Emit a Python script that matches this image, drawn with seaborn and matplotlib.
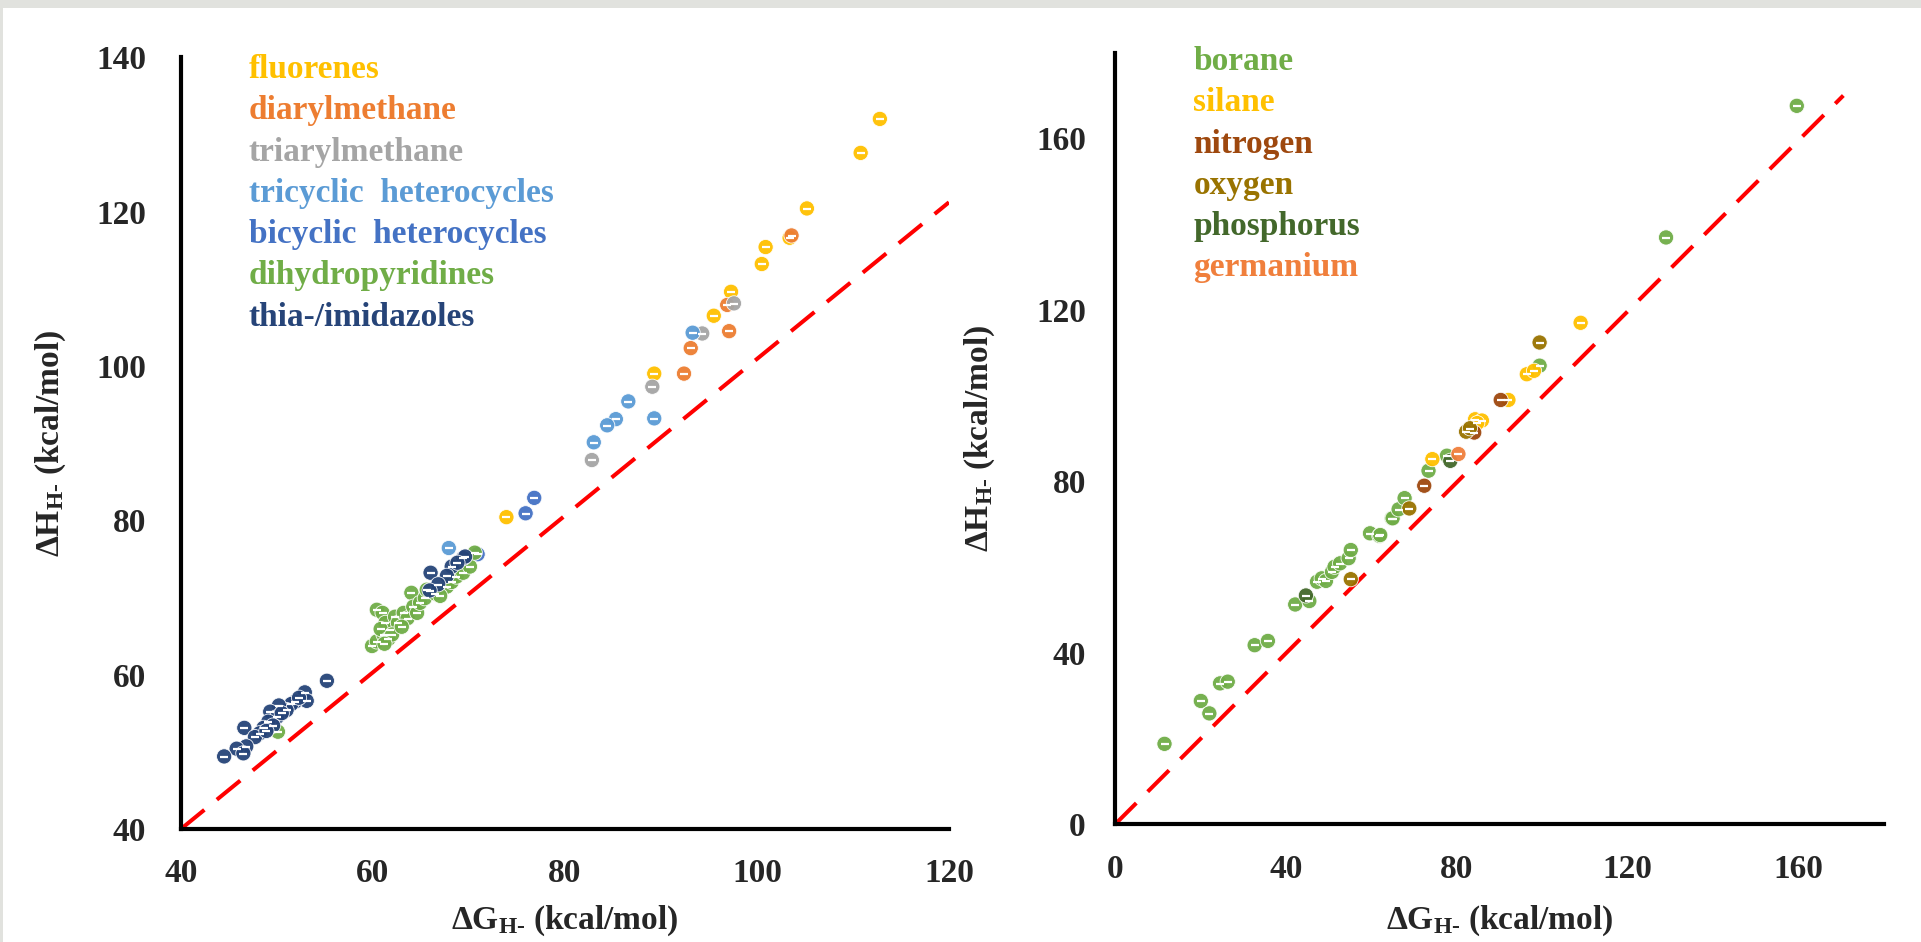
import matplotlib
matplotlib.use("Agg")
import matplotlib.pyplot as plt
import numpy as np
import pandas as pd
import seaborn as sns
from matplotlib.patches import Rectangle

# ---- left panel: organic hydride donors (dG, dH in kcal/mol)
FLUORENES_G = [112.8, 110.8, 105.2, 103.4, 100.9, 100.5, 97.3, 95.5, 89.3, 73.9]
FLUORENES_H = [132.0, 127.6, 120.4, 116.6, 115.4, 113.2, 109.6, 106.5, 99.0, 80.4]
DIARYL_G = [103.6, 96.9, 97.1, 93.1, 92.4]
DIARYL_H = [116.9, 107.9, 104.5, 102.3, 99.0]
TRIARYL_G = [97.6, 94.3, 89.1, 82.8]
TRIARYL_H = [108.1, 104.2, 97.3, 87.8]
TRICYCLIC_G = [93.3, 86.6, 85.3, 84.4, 83.0, 89.3, 67.9]
TRICYCLIC_H = [104.3, 95.4, 93.1, 92.3, 90.1, 93.2, 76.4]
BICYCLIC_G = [76.8, 75.9, 70.9]
BICYCLIC_H = [82.9, 80.9, 75.6]
DHP_G = [60.4, 61.0, 59.9, 60.4, 61.1, 61.3, 61.8, 62.3, 62.6, 63.2, 63.6, 64.0,
         64.2, 64.6, 64.9, 65.4, 65.6, 67.7, 68.2, 68.7, 69.4, 70.1, 70.6, 60.8,
         61.6, 62.0, 63.0, 61.2, 50.1, 66.5, 67.0]
DHP_H = [68.4, 68.0, 63.7, 64.3, 65.2, 66.7, 65.8, 67.5, 66.7, 68.0, 67.3, 70.6,
         68.8, 68.0, 69.3, 69.9, 71.0, 71.4, 72.0, 72.7, 73.2, 74.0, 75.8, 65.9,
         64.6, 65.2, 66.2, 64.0, 52.6, 70.5, 70.2]
THIA_G = [69.4, 68.2, 67.7, 66.0, 66.8, 65.9, 69.6, 68.8, 55.2, 52.9, 53.1, 51.9,
          51.5, 51.0, 50.2, 49.3, 50.0, 49.1, 48.6, 46.6, 48.2, 47.7, 46.8, 45.8,
          46.5, 44.5, 49.6, 48.9, 50.5, 52.3]
THIA_H = [75.1, 74.0, 72.8, 73.2, 71.7, 70.9, 75.3, 74.5, 59.2, 57.7, 56.6, 56.5,
          56.2, 55.4, 56.0, 55.2, 54.5, 53.9, 53.1, 53.1, 52.4, 51.9, 50.7, 50.4,
          49.8, 49.4, 53.4, 52.7, 55.0, 57.0]

LEFT_GROUPS = ["fluorenes", "diarylmethane", "triarylmethane", "tricyclic  heterocycles",
               "bicyclic  heterocycles", "dihydropyridines", "thia-/imidazoles"]
LEFT_COLORS = ["#FFC000", "#ED7D31", "#A5A5A5", "#5B9BD5", "#4472C4", "#70AD47", "#264478"]

# ---- right panel: main-group hydrides
BORANE_G = [11.6, 20.1, 22.1, 24.6, 26.4, 32.7, 35.8, 42.2, 45.5, 47.3, 48.4, 49.4,
            50.8, 51.4, 52.7, 54.7, 55.2, 59.7, 61.9, 62.1, 64.8, 65.0, 66.4, 67.8,
            73.4, 77.7, 99.4, 129.0, 159.6]
BORANE_H = [18.8, 28.8, 25.9, 32.9, 33.3, 41.8, 42.8, 51.3, 52.1, 56.6, 57.4, 56.8,
            58.9, 60.1, 60.9, 62.1, 64.0, 67.9, 67.3, 67.5, 71.4, 71.4, 73.5, 76.1,
            82.5, 86.0, 107.0, 136.9, 167.6]
SILANE_G = [74.3, 84.3, 85.9, 84.8, 92.1, 96.4, 98.1, 109.0]
SILANE_H = [85.2, 94.5, 94.2, 93.6, 99.0, 105.0, 105.8, 117.0]
NITROGEN_G = [72.4, 84.1, 90.3]
NITROGEN_H = [79.0, 91.4, 99.0]
OXYGEN_G = [55.2, 68.9, 82.2, 83.1, 99.4]
OXYGEN_H = [57.2, 73.7, 91.6, 92.4, 112.4]
PHOSPHORUS_G = [44.7, 78.5]
PHOSPHORUS_H = [53.4, 84.8]
GERMANIUM_G = [80.4]
GERMANIUM_H = [86.4]

RIGHT_GROUPS = ["borane", "silane", "nitrogen", "oxygen", "phosphorus", "germanium"]
RIGHT_COLORS = ["#70AD47", "#FFC000", "#9E480E", "#997300", "#43682B", "#F07F3C"]

# y = x guide lines (end points as drawn)
DIAG_LEFT_X = [40, 120]
DIAG_LEFT_Y = [40, 121.2]
DIAG_RIGHT_X = [0, 170.5]
DIAG_RIGHT_Y = [0, 170.0]


def build_df(groups, xs, ys):
    rows = []
    for name, gx, gy in zip(groups, xs, ys):
        for a, b in zip(gx, gy):
            rows.append((name, a, b))
    return pd.DataFrame(rows, columns=["group", "dG", "dH"])


sns.set_style("white")
plt.rcParams["font.family"] = ["Liberation Serif", "DejaVu Serif"]
plt.rcParams["font.weight"] = "bold"
plt.rcParams["mathtext.fontset"] = "custom"
plt.rcParams["mathtext.rm"] = "Liberation Serif:bold"
plt.rcParams["mathtext.it"] = "Liberation Serif:bold"
plt.rcParams["mathtext.bf"] = "Liberation Serif:bold"

FS = 24

fig = plt.figure(figsize=(19.21, 9.42), dpi=100)
fig.patch.set_facecolor("white")
# thin grey frame strips of the screenshot
fig.patches.append(Rectangle((0, 1 - 8 / 942), 1, 8 / 942, transform=fig.transFigure,
                             facecolor="#e1e2de", edgecolor="none", zorder=0))
fig.patches.append(Rectangle((0, 0), 3 / 1921, 1, transform=fig.transFigure,
                             facecolor="#e1e2de", edgecolor="none", zorder=0))

ax1 = fig.add_axes([0.0942, 0.1200, 0.3998, 0.8193])
ax2 = fig.add_axes([0.5804, 0.1248, 0.4003, 0.8193])

df_left = build_df(LEFT_GROUPS,
                   [FLUORENES_G, DIARYL_G, TRIARYL_G, TRICYCLIC_G, BICYCLIC_G, DHP_G, THIA_G],
                   [FLUORENES_H, DIARYL_H, TRIARYL_H, TRICYCLIC_H, BICYCLIC_H, DHP_H, THIA_H])
df_right = build_df(RIGHT_GROUPS,
                    [BORANE_G, SILANE_G, NITROGEN_G, OXYGEN_G, PHOSPHORUS_G, GERMANIUM_G],
                    [BORANE_H, SILANE_H, NITROGEN_H, OXYGEN_H, PHOSPHORUS_H, GERMANIUM_H])


def draw_panel(ax, df, groups, colors, diag_x, diag_y, xlim, ylim, ticks_x, ticks_y,
               ypad, ylab_x, xlab_y, leg_x, leg_y0):
    ax.plot(diag_x, diag_y, color="#FF0000", lw=2.9, linestyle=(0, (7.5, 4)), zorder=1)
    sns.scatterplot(data=df, x="dG", y="dH", hue="group", hue_order=groups,
                    palette=dict(zip(groups, colors)), s=120, edgecolor="white",
                    linewidth=0.6, alpha=0.95, legend=False, ax=ax, zorder=3)
    # the little white dash glyph inside each marker
    ax.scatter(df["dG"], df["dH"] - 0.25 * (ylim[1] - ylim[0]) / 771, marker="_", s=30,
               color="white", linewidths=1.6, zorder=4)
    ax.set_xlim(*xlim)
    ax.set_ylim(*ylim)
    ax.set_xticks(ticks_x)
    ax.set_yticks(ticks_y)
    for side in ["top", "right"]:
        ax.spines[side].set_visible(False)
    for side in ["left", "bottom"]:
        ax.spines[side].set_linewidth(3)
        ax.spines[side].set_color("black")
    ax.tick_params(axis="both", direction="in", length=6, width=2.5, color="black",
                   labelsize=FS)
    ax.tick_params(axis="x", pad=21)
    ax.tick_params(axis="y", pad=ypad)
    for lab in ax.get_xticklabels() + ax.get_yticklabels():
        lab.set_fontweight("bold")
    ax.set_xlabel(r"ΔG$_{\mathrm{H}\text{-}}$ (kcal/mol)", fontsize=FS, fontweight="bold",
                  va="center")
    ax.set_ylabel(r"ΔH$_{\mathrm{H}\text{-}}$ (kcal/mol)", fontsize=FS, fontweight="bold",
                  va="center")
    ax.xaxis.set_label_coords(0.5, xlab_y)
    ax.yaxis.set_label_coords(ylab_x, 0.5)
    for i, (name, col) in enumerate(zip(groups, colors)):
        ax.text(leg_x, leg_y0 - i * 0.0535, name, transform=ax.transAxes, color=col,
                fontsize=FS, fontweight="bold", va="baseline", ha="left")


draw_panel(ax1, df_left, LEFT_GROUPS, LEFT_COLORS, DIAG_LEFT_X, DIAG_LEFT_Y,
           (40, 120), (40, 140), [40, 60, 80, 100, 120], [40, 60, 80, 100, 120, 140],
           ypad=25, ylab_x=-0.169, xlab_y=-0.119, leg_x=0.088, leg_y0=0.973)
draw_panel(ax2, df_right, RIGHT_GROUPS, RIGHT_COLORS, DIAG_RIGHT_X, DIAG_RIGHT_Y,
           (0, 180), (0, 180), [0, 40, 80, 120, 160], [0, 40, 80, 120, 160],
           ypad=21, ylab_x=-0.1756, xlab_y=-0.125, leg_x=0.102, leg_y0=0.9775)

fig.savefig("out.png", dpi=100)
plt.close(fig)
